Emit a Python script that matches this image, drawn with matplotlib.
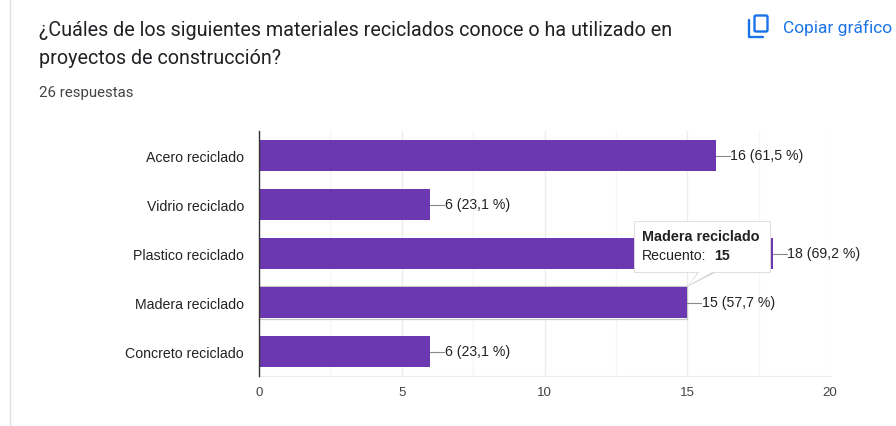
import matplotlib
matplotlib.use("Agg")
import matplotlib.pyplot as plt
from matplotlib.patches import Polygon, Rectangle, FancyBboxPatch

categories = ["Acero reciclado", "Vidrio reciclado", "Plastico reciclado",
              "Madera reciclado", "Concreto reciclado"]
counts = [16, 6, 18, 15, 6]
percents = ["61,5", "23,1", "69,2", "57,7", "23,1"]
xticks = [0, 5, 10, 15, 20]
minor_xticks = [2.5, 7.5, 12.5, 17.5]

W, H = 896, 427
purple = "#6c38b2"
label_col = "#222222"
FS = 10.2

fig = plt.figure(figsize=(W / 100, H / 100), dpi=100, facecolor="white")

# overlay in pixel coordinates for the page stuff around the chart
page = fig.add_axes([0, 0, 1, 1], zorder=3)
page.set_xlim(0, W)
page.set_ylim(H, 0)
page.axis("off")
page.patch.set_alpha(0)

ax = fig.add_axes([259 / W, 1 - 377 / H, 571 / W, 245 / H], zorder=1)
ypos = list(range(len(categories)))
ax.barh(ypos, counts, height=0.63, color=purple, zorder=3)
ax.set_ylim(len(categories) - 0.5, -0.5)
ax.set_xlim(0, 20)

ax.set_xticks(xticks)
ax.set_xticks(minor_xticks, minor=True)
ax.set_yticks(ypos)
ax.set_yticklabels(categories, family="Liberation Sans", fontsize=FS, color=label_col,
                   va="center_baseline")
ax.tick_params(axis="y", length=0, pad=10.8)
ax.tick_params(axis="x", which="both", length=0, pad=7)
for t in ax.get_xticklabels():
    t.set_family("Liberation Sans")
    t.set_fontsize(9.6)
    t.set_color("#444444")
ax.grid(axis="x", which="major", color="#ececec", lw=1, zorder=0)
ax.grid(axis="x", which="minor", color="#f6f6f6", lw=1, zorder=0)
for s in ["top", "right"]:
    ax.spines[s].set_visible(False)
ax.spines["bottom"].set_color("#ececec")
ax.spines["left"].set_color("#333333")
ax.spines["left"].set_linewidth(1)
ax.spines["left"].set_zorder(5)

# leader line + value label on each bar
for y, c, p in zip(ypos, counts, percents):
    ax.plot([c, c + 0.49], [y, y], color="#888888", lw=0.8, zorder=4, clip_on=False)
    ax.text(c + 0.5, y - 0.02, f"{c} ({p} %)", family="Liberation Sans", fontsize=FS,
            color=label_col, va="center", ha="left", zorder=4)

# hover shadow on the Madera bar
ax.barh(3, counts[3], height=0.66, facecolor="none", edgecolor="#c8c8c8", lw=0.9, zorder=2.5)

# tooltip
page.add_patch(Rectangle((635, 224), 136, 50, fc="#c4c4c4", ec="none", alpha=0.45))
page.add_patch(Polygon([(698, 273), (717, 273), (687, 288)], fc="#d8d8d8", ec="none"))
page.add_patch(Rectangle((634, 222), 136, 51, fc="white", ec="#dcdcdc", lw=0.6))
page.add_patch(Polygon([(700, 272), (714, 272), (689, 286)], fc="white", ec="none"))
page.text(642, 237, "Madera reciclado", family="Liberation Sans", fontsize=10.4,
          fontweight="bold", color="#222222", va="center")
page.text(642, 256, "Recuento:", family="Liberation Sans", fontsize=FS,
          color="#222222", va="center")
page.text(714, 256, "15", family="Liberation Sans", fontsize=FS,
          fontweight="bold", color="#222222", va="center")

# header
page.text(39, 30, "¿Cuáles de los siguientes materiales reciclados conoce o ha utilizado en",
          family="Roboto", fontsize=14.25, color="#202124", va="center")
page.text(39, 58, "proyectos de construcción?", family="Roboto", fontsize=14.25,
          color="#202124", va="center")
page.text(39, 93.5, "26 respuestas", family="Roboto", fontsize=10.8, color="#444444", va="center")

# copy icon
page.add_patch(FancyBboxPatch((754.5, 16.5), 13, 16, boxstyle="round,pad=0,rounding_size=1.5",
                              fc="none", ec="#1a73e8", lw=1.7))
page.plot([749, 749, 763], [21, 38, 38], color="#1a73e8", lw=1.7, solid_capstyle="round")
page.text(783, 28, "Copiar gráfico", family="Roboto", fontsize=12.5, color="#1a73e8",
          va="center", clip_on=True)

# left edge of the card
page.plot([10, 10], [0, H], color="#e0e0e8", lw=1)

fig.savefig("out.png", dpi=100)
